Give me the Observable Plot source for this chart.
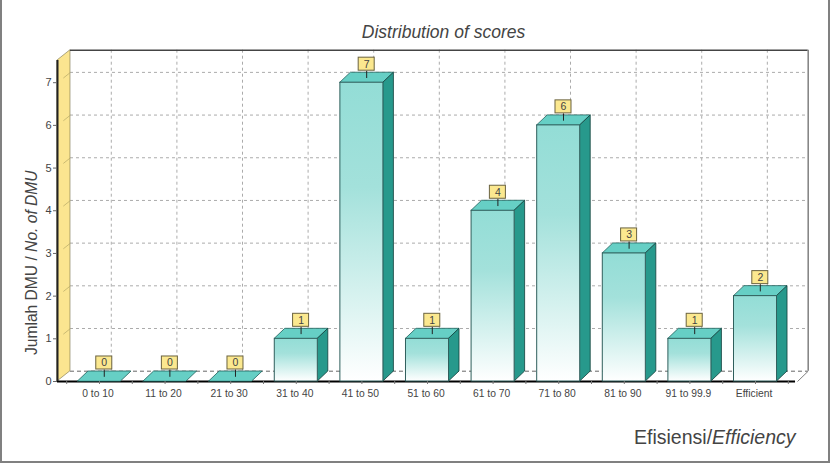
<!DOCTYPE html>
<html><head><meta charset="utf-8">
<script src="https://cdn.jsdelivr.net/npm/d3@7"></script>
<script src="https://cdn.jsdelivr.net/npm/@observablehq/plot@0.6"></script>
<style>
html,body{margin:0;padding:0;background:#fff;overflow:hidden}
#wrap{position:relative;width:832px;height:464px}
#edge{position:absolute;left:0;top:-3px;width:826px;height:462px;border:2px solid #808080;pointer-events:none}
svg{display:block}
</style></head><body><div id="wrap"><div id="edge"></div></div>
<script>
const categories = ["0 to 10","11 to 20","21 to 30","31 to 40","41 to 50","51 to 60","61 to 70","71 to 80","81 to 90","91 to 99.9","Efficient"];
const counts = [0,0,0,1,7,1,4,6,3,1,2];
const yTicks = [0,1,2,3,4,5,6,7];

// depth of the pseudo-3D drawing, in data units of the two scales
const xMin=-0.64, xMax=10.64, yMax=7.52;
const half=0.328, barDx=0.16, barDy=0.234;
const wallDx=0.198, rightDx=0.163, backDy=0.2415;
const tagX=0.073, tagW=0.122, tagLow=0.281, tagH=0.305, leaderLow=0.11;

const bars = categories.map((c,i)=>({i,c,v:counts[i]}));
const tall = bars.filter(d=>d.v>0);
const idx = categories.map((_,i)=>i);
const minor = idx.flatMap(i=>[i-0.5,i]).concat([10.5]);
const sans = "Liberation Sans, Arial, sans-serif";

const sideFaces = tall.flatMap(d=>[
  {k:d.i,x:d.i+half,y1:0,y2:d.v},
  {k:d.i,x:d.i+half+barDx,y1:barDy,y2:d.v+barDy}]);
const topFaces = bars.flatMap(d=>[
  {k:d.i,y:d.v,x1:d.i-half,x2:d.i+half},
  {k:d.i,y:d.v+barDy,x1:d.i-half+barDx,x2:d.i+half+barDx}]);
const wallFace = [
  {x:xMin,y1:0,y2:yMax},
  {x:xMin+wallDx,y1:backDy,y2:yMax+backDy}];
const floorFace = [
  {y:0,x1:xMin,x2:xMax},
  {y:backDy,x1:xMin+wallDx,x2:xMax+rightDx}];

const gradient = () => {
  const s = d3.create("svg:defs");
  const g = s.append("linearGradient").attr("id","face").attr("x1",0).attr("x2",0).attr("y1",0).attr("y2",1);
  g.append("stop").attr("offset","0").attr("stop-color","#93DDD6");
  g.append("stop").attr("offset","0.35").attr("stop-color","#A3E1DB");
  g.append("stop").attr("offset","1").attr("stop-color","#FFFFFF");
  return s.node();
};

const chart = Plot.plot({
  width:832, height:464,
  marginLeft:57, marginRight:35, marginTop:60, marginBottom:83,
  style:{background:"#fff",fontFamily:sans},
  x:{domain:[xMin,xMax],axis:null},
  y:{domain:[0,yMax],axis:null},
  marks:[
    gradient,
    // floor and left wall
    Plot.areaX(floorFace,{y:"y",x1:"x1",x2:"x2",fill:"#fff",stroke:null}),
    Plot.areaY(wallFace,{x:"x",y1:"y1",y2:"y2",fill:"#FBE590",stroke:"#77704a",strokeWidth:0.6}),
    // back grid
    Plot.ruleY(yTicks.slice(1),{y:d=>d+backDy,x1:xMin+wallDx,x2:xMax+rightDx,stroke:"#ababab",strokeDasharray:"3,3"}),
    Plot.ruleX(idx,{x:d=>d+0.18,y1:backDy,y2:yMax+backDy,stroke:"#ababab",strokeDasharray:"3,3"}),
    Plot.ruleY([0],{y:d=>d+backDy,x1:xMin+wallDx,x2:xMax+rightDx,stroke:"#666",strokeDasharray:"4,3"}),
    // back frame
    Plot.ruleY([yMax+backDy],{x1:xMin+wallDx,x2:xMax+rightDx,stroke:"#444",strokeWidth:1.5}),
    Plot.ruleX([xMax+rightDx],{y1:backDy,y2:yMax+backDy,stroke:"#808080",strokeWidth:1.5}),
    Plot.link([0],{x1:xMax,y1:0,x2:xMax+rightDx,y2:backDy,stroke:"#808080"}),
    // tick stubs on the wall
    Plot.link(yTicks.slice(1),{x1:xMin+wallDx*0.45,y1:d=>d+backDy*0.45,x2:xMin+wallDx,y2:d=>d+backDy,stroke:"#b5a866",strokeWidth:0.7}),
    // front edges
    Plot.ruleY([0],{x1:xMin,x2:xMax-0.03,stroke:"#000",strokeWidth:1.8}),
    Plot.ruleX([xMin],{y1:0,y2:yMax,stroke:"#222",strokeWidth:2}),
    // bars
    Plot.areaX(topFaces,{y:"y",x1:"x1",x2:"x2",z:"k",fill:"#66CFC5",stroke:"#1f5f5a",strokeWidth:0.8}),
    Plot.areaY(sideFaces,{x:"x",y1:"y1",y2:"y2",z:"k",fill:"#27998C",stroke:"#123f3b",strokeWidth:0.8}),
    Plot.rectY(tall,{x1:d=>d.i-half,x2:d=>d.i+half,y1:0,y2:"v",fill:"url(#face)",stroke:"#2f5f5c",strokeWidth:1}),
    // value tags
    Plot.link(bars,{x1:d=>d.i+tagX,x2:d=>d.i+tagX,y1:d=>d.v+leaderLow,y2:d=>d.v+tagLow,stroke:"#222",strokeWidth:1}),
    Plot.rect(bars,{x1:d=>d.i+tagX-tagW,x2:d=>d.i+tagX+tagW,y1:d=>d.v+tagLow,y2:d=>d.v+tagLow+tagH,fill:"#FBE88F",stroke:"#6b6340",strokeWidth:1}),
    Plot.text(bars,{x:d=>d.i+tagX,y:d=>d.v+tagLow+tagH/2,text:d=>String(d.v),fontSize:10.5,fill:"#444",fontFamily:sans}),
    // axes
    Plot.axisX(minor,{tickSize:3,tickFormat:()=>"",stroke:"#777"}),
    Plot.axisX(idx,{tickSize:0,tickPadding:8,dx:-1.5,tickFormat:i=>categories[i],fontSize:10.3,fill:"#444",label:null}),
    Plot.axisY(yTicks,{tickSize:4,tickPadding:2,fontSize:11,fill:"#444",stroke:"#666",label:null}),
    // titles
    Plot.text(["Distribution of scores"],{frameAnchor:"top",dy:-35,dx:16,fontSize:17.5,fontStyle:"italic",fill:"#444",fontFamily:sans,className:"ttl"}),
    Plot.text(["Jumlah DMU / No. of DMU"],{frameAnchor:"left",rotate:-90,dx:-26,dy:134,fontSize:15.6,fill:"#444",fontFamily:sans,className:"ylab"}),
    Plot.text(["Efisiensi/Efficiency"],{frameAnchor:"bottom-right",textAnchor:"end",dx:-2,dy:62,fontSize:19.5,fill:"#444",fontFamily:sans,className:"xlab"})
  ]
});

// italic runs inside the two axis titles, kept as real text
function restyle(cls, plain, ital){
  const t = d3.select(chart).select("."+cls+" text");
  t.text(null);
  t.append("tspan").text(plain);
  t.append("tspan").attr("font-style","italic").text(ital);
}
restyle("ylab","Jumlah DMU / ","No. of DMU");
restyle("xlab","Efisiensi/","Efficiency");
document.getElementById("wrap").prepend(chart);
</script></body></html>
